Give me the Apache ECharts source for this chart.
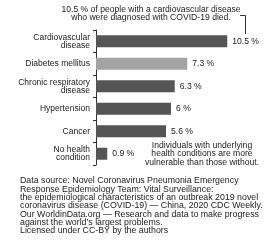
<!DOCTYPE html>
<html>
<head>
<meta charset="utf-8">
<script src="https://cdn.jsdelivr.net/npm/echarts@6/dist/echarts.min.js"></script>
<style>html,body{margin:0;padding:0;background:#fff}#c{width:280px;height:240px}</style>
</head>
<body>
<div id="c"></div>
<script>
var categories = ["Cardiovascular\ndisease", "Diabetes mellitus", "Chronic respiratory\ndisease", "Hypertension", "Cancer", "No health\ncondition"];
var values = [10.5, 7.3, 6.3, 6, 5.6, 0.9];
var highlight = [false, true, false, false, false, false];
var titleLines = ["10.5 % of people with a cardiovascular disease", "who were diagnosed with COVID-19 died."];
var noteLines = ["Individuals with underlying", "health conditions are more", "vulnerable than those without."];
var sourceLines = [
  "Data source: Novel Coronavirus Pneumonia Emergency",
  "Response Epidemiology Team: Vital Surveillance:",
  "the epidemiological characteristics of an outbreak 2019 novel",
  "coronavirus disease (COVID-19) \u2014 China, 2020 CDC Weekly.",
  "Our WorldinData.org \u2014 Research and data to make progress",
  "against the world\u2019s largest problems.",
  "Licensed under CC-BY by the authors"
];

var FONT = '"Liberation Sans", Arial, sans-serif';
var chart = echarts.init(document.getElementById('c'), null, {renderer: 'canvas'});

var graphics = [];
titleLines.forEach(function (t, i) {
  graphics.push({type: 'text', x: 151, y: 10 + i * 7.8, style: {text: t, font: '8.6px ' + FONT, fill: '#222', align: 'center', verticalAlign: 'middle'}});
});
graphics.push({type: 'polyline', shape: {points: [[240, 15.5], [245.5, 15.5], [245.5, 34]]}, style: {stroke: '#333', lineWidth: 1, fill: null}});
noteLines.forEach(function (t, i) {
  graphics.push({type: 'text', x: 202, y: 145.7 + i * 8.3, style: {text: t, font: '8.6px ' + FONT, fill: '#222', align: 'center', verticalAlign: 'middle'}});
});
sourceLines.forEach(function (t, i) {
  graphics.push({type: 'text', x: 20, y: 181 + i * 8.3, style: {text: t, font: '8.8px ' + FONT, fill: '#222', align: 'left', verticalAlign: 'middle'}});
});

chart.setOption({
  animation: false,
  backgroundColor: '#fff',
  grid: {left: 96, top: 30, width: 175, height: 135, containLabel: false},
  xAxis: {type: 'value', min: 0, max: 14, show: false},
  yAxis: {
    type: 'category', data: categories, inverse: true,
    axisLine: {show: true, lineStyle: {color: '#333', width: 1}},
    axisTick: {show: true, length: 3, alignWithLabel: false, lineStyle: {color: '#333'}},
    axisLabel: {margin: 6, fontSize: 8.5, fontFamily: FONT, color: '#222', lineHeight: 8, align: 'right'},
    splitLine: {show: false}
  },
  series: [{
    type: 'bar', barWidth: 12,
    data: values.map(function (v, i) {
      return {value: v, itemStyle: {color: highlight[i] ? '#a3a3a3' : '#555555'}};
    }),
    label: {show: true, position: 'right', distance: 5, fontSize: 8.6, fontFamily: FONT, color: '#222',
      formatter: function (p) { return p.value + ' %'; }}
  }],
  graphic: graphics
});
</script>
</body>
</html>
